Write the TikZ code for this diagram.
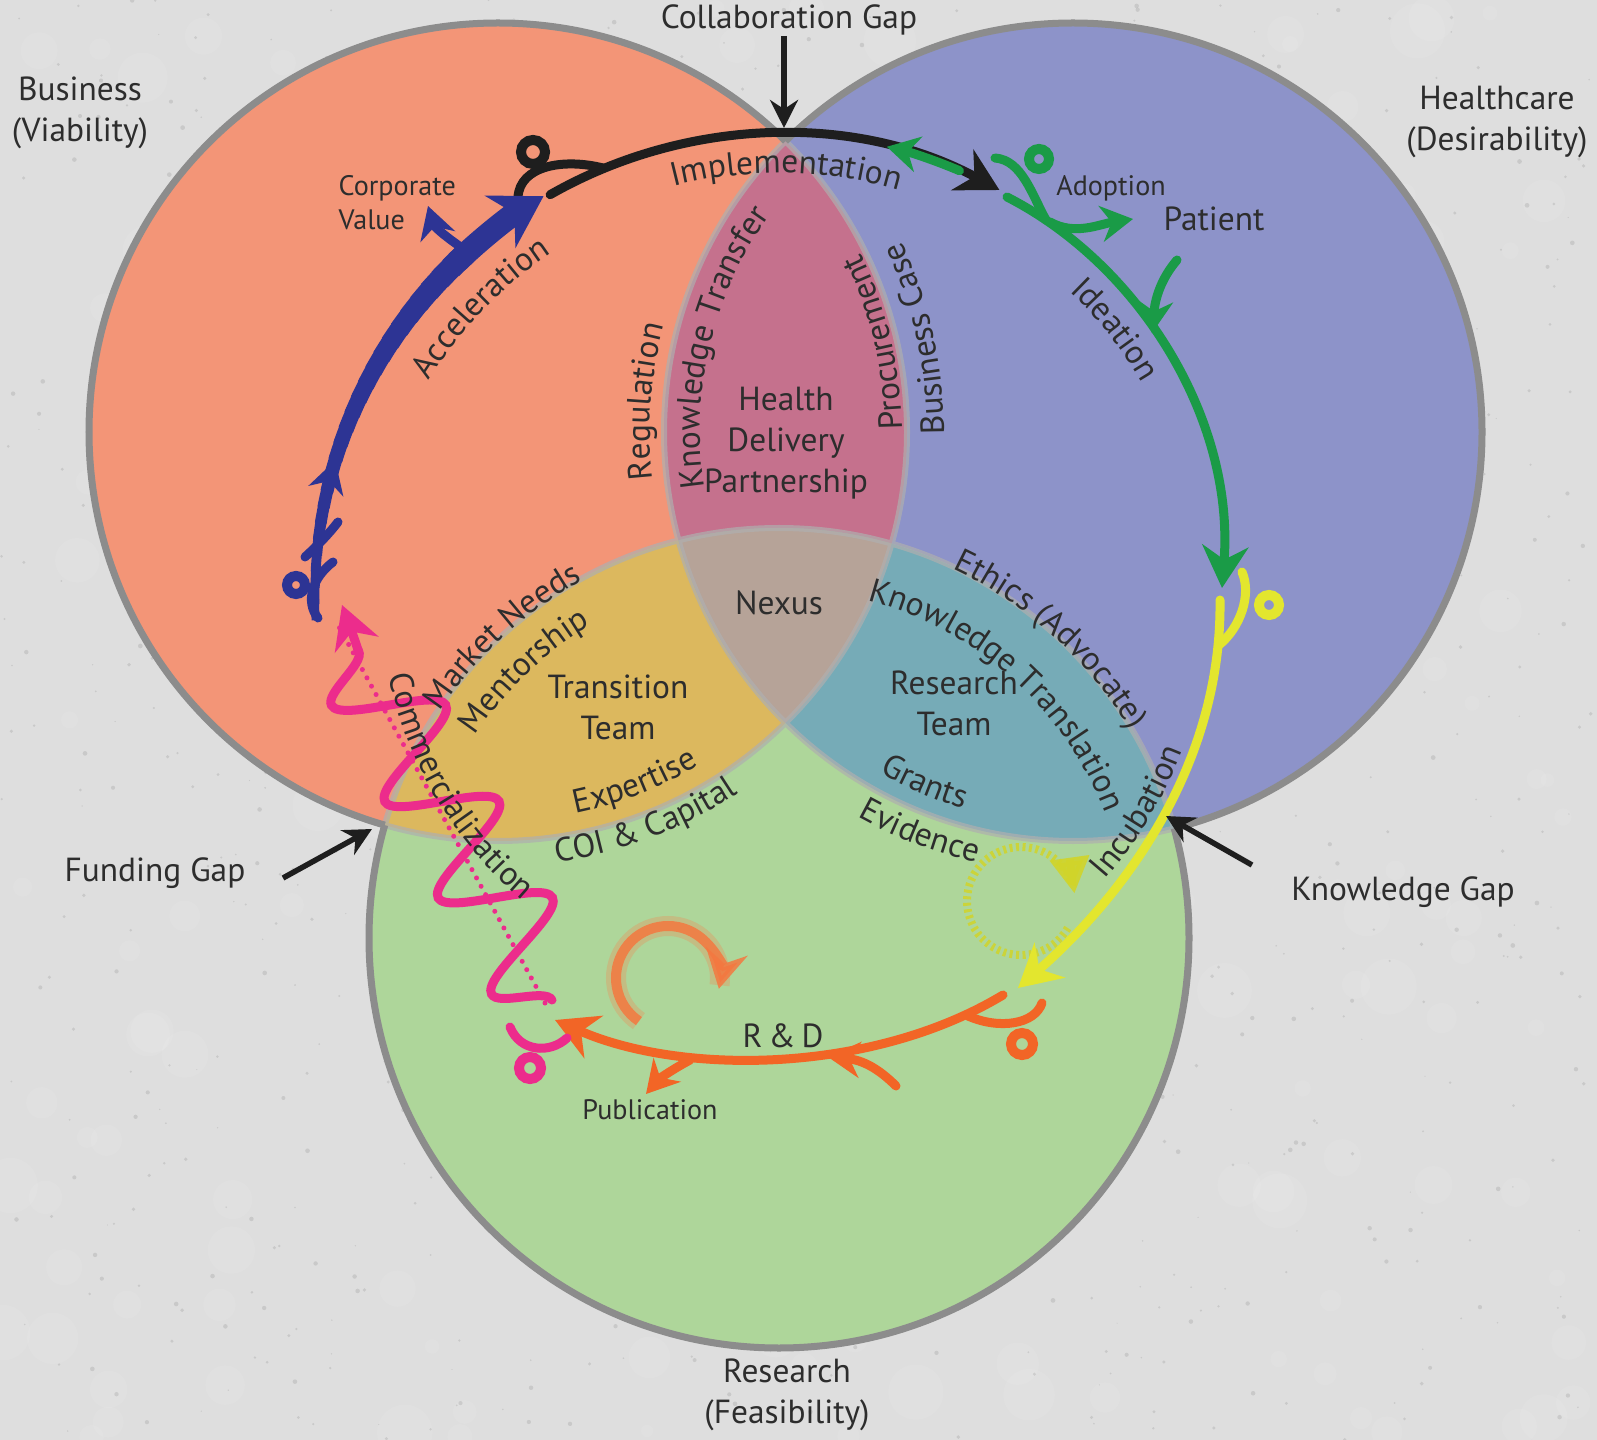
\documentclass[tikz,border=0pt]{standalone}
\usepackage{fontspec}
\setmainfont{PT Sans}
\usetikzlibrary{arrows.meta,decorations.text,decorations.pathmorphing}

\definecolor{bg}{HTML}{DEDEDE}
\definecolor{bizfill}{HTML}{F39577}
\definecolor{carefill}{HTML}{8D93C9}
\definecolor{resfill}{HTML}{AED69A}
\definecolor{bizcare}{HTML}{C5718D}
\definecolor{bizres}{HTML}{DCB85E}
\definecolor{careres}{HTML}{76ABB7}
\definecolor{nexusfill}{HTML}{B6A398}
\definecolor{rim}{HTML}{8C8C8C}
\definecolor{ink}{HTML}{2D2D2D}
\definecolor{cycblack}{HTML}{1E1E1E}
\definecolor{cycblue}{HTML}{2D3494}
\definecolor{cycgreen}{HTML}{1A9B47}
\definecolor{cycyellow}{HTML}{E3E62E}
\definecolor{cycorange}{HTML}{F26526}
\definecolor{cycpink}{HTML}{EC2C8C}

\newcommand{\fsBig}{\fontsize{9.5}{11.6}\selectfont}
\newcommand{\fsSmall}{\fontsize{8}{9.7}\selectfont}

% label bent along a circle: centre, radius, middle angle, direction (1 = clockwise), text
\newcommand{\bendlabel}[5]{%
  \path[decorate, decoration={text along path, text align=center,
      text={|\fsBig\color{ink}|#5}}]
    (#1) ++({#3-40*#4}:#2) arc[start angle={#3-40*#4}, end angle={#3+40*#4}, radius=#2];}

\begin{document}
\begin{tikzpicture}[x=0.01cm, y=-0.01cm,
  lbl/.style={font=\fsBig, text=ink, align=center, inner sep=0pt},
  smalllbl/.style={font=\fsSmall, text=ink, align=center, inner sep=0pt},
  gaparrow/.style={draw=cycblack, line width=0.55mm, -{Stealth[length=2.8mm,width=2.8mm]}},
  rimline/.style={draw=rim, line width=0.7mm},
  innerrim/.style={draw=rim!70!white, draw opacity=0.7, line width=0.6mm},
  cycpath/.style={line width=0.9mm, line cap=round},
  cyctip/.style={-{Stealth[length=4.2mm,width=4.6mm]}},
  midtip/.style={-{Stealth[length=3.2mm,width=3.6mm]}},
  seedring/.style={line width=1mm},
]
\useasboundingbox (0,0) rectangle (1597,1440);
\fill[bg] (0,0) rectangle (1597,1440);
% paper texture
\pgfmathsetseed{42}
\foreach \i in {1,...,220} {
  \fill[white, opacity=0.07] ({rnd*1597},{rnd*1440}) circle[radius={6+rnd*22}];
}
\foreach \i in {1,...,900} {
  \fill[black, opacity=0.09] ({rnd*1597},{rnd*1440}) circle[radius={0.6+rnd*1.8}];
}

% circle centres
\coordinate (biz) at (498,432);
\coordinate (care) at (1073,432);
\coordinate (res) at (779,938);
\coordinate (hub) at (779,596); % centre of the cycle

% discs and overlaps
\fill[bizfill] (biz) circle[radius=409];
\fill[carefill] (care) circle[radius=409];
\fill[resfill] (res) circle[radius=410];
\begin{scope}\clip (biz) circle[radius=409]; \fill[bizcare] (care) circle[radius=409]; \end{scope}
\begin{scope}\clip (biz) circle[radius=409]; \fill[bizres] (res) circle[radius=410]; \end{scope}
\begin{scope}\clip (care) circle[radius=409]; \fill[careres] (res) circle[radius=410]; \end{scope}
\begin{scope}\clip (biz) circle[radius=409]; \clip (care) circle[radius=409];
  \fill[nexusfill] (res) circle[radius=410]; \end{scope}

% rims: light inside, grey outside
\draw[innerrim] (biz) circle[radius=409] (care) circle[radius=409] (res) circle[radius=410];
\begin{scope}[even odd rule]
  \clip (0,0) rectangle (1597,1440) (care) circle[radius=409];
  \clip (0,0) rectangle (1597,1440) (res) circle[radius=410];
  \draw[rimline] (biz) circle[radius=409];
\end{scope}
\begin{scope}[even odd rule]
  \clip (0,0) rectangle (1597,1440) (biz) circle[radius=409];
  \clip (0,0) rectangle (1597,1440) (res) circle[radius=410];
  \draw[rimline] (care) circle[radius=409];
\end{scope}
\begin{scope}[even odd rule]
  \clip (0,0) rectangle (1597,1440) (biz) circle[radius=409];
  \clip (0,0) rectangle (1597,1440) (care) circle[radius=409];
  \draw[rimline] (res) circle[radius=410];
\end{scope}

% black: implementation
\draw[cycpath, cycblack, cyctip] (hub) ++(240.3:462) arc[start angle=240.3, end angle=298.5, radius=462];
\draw[cycblack, seedring] (533,152) circle[radius=12];
\draw[cycpath, cycblack] (518,197) .. controls (520,166) and (563,158) .. (603,168);

% green: ideation
\draw[cycpath, cycgreen, cyctip] (1007,197) .. controls (1140,265) and (1235,420) .. (1222,588);
\draw[cycgreen, seedring] (1039,159) circle[radius=10];
\draw[cycpath, cycgreen] (995,158) .. controls (1022,160) and (1032,195) .. (1046,220);
\draw[cycpath, cycgreen, midtip] (hub) ++(293:462) arc[start angle=293, end angle=283.5, radius=462];
\draw[cycpath, cycgreen, midtip] (1050,222) .. controls (1075,236) and (1100,224) .. (1133,219);
\draw[cycpath, cycgreen, midtip] (1177,260) .. controls (1160,280) and (1155,300) .. (1152,333);

% yellow: incubation
\draw[cycyellow!92!black, opacity=0.85, line width=0.8mm, dash pattern=on 0.3mm off 0.35mm] (1021,901) ++(30:54) arc[start angle=30, end angle=338, radius=54];
\draw[cycyellow!92!black, opacity=0.9, line width=0.8mm, -{Triangle[length=3.6mm,width=3.8mm]}] (1021,901) ++(334:54) arc[start angle=334, end angle=352, radius=54];
\draw[cycpath, cycyellow, cyctip] (1220,600) .. controls (1222,760) and (1130,890) .. (1018,988);
\draw[cycyellow, seedring] (1269,605) circle[radius=10];
\draw[cycpath, cycyellow] (1242,572) .. controls (1252,595) and (1240,628) .. (1219,645);

% orange: R & D
\draw[cycorange!80!white, line width=2mm, opacity=0.3] (668,978) ++(124:52) arc[start angle=124, end angle=368, radius=52];
\draw[cycorange!88!white, line width=1mm, opacity=0.85, -{Stealth[length=3.8mm,width=4.2mm]}] (668,978) ++(124:52) arc[start angle=124, end angle=372, radius=52];
\draw[cycpath, cycorange, cyctip] (1003,995) .. controls (870,1075) and (680,1075) .. (555,1020);
\draw[cycorange, seedring] (1022,1044) circle[radius=11];
\draw[cycpath, cycorange] (1042,1003) .. controls (1035,1024) and (1000,1030) .. (968,1016);
\draw[cycpath, cycorange, midtip] (896,1086) .. controls (878,1068) and (862,1060) .. (828,1057);
\draw[cycpath, cycorange, midtip] (690,1060) .. controls (675,1068) and (660,1078) .. (646,1094);

% pink: commercialization
\draw[cycpink, line width=0.5mm, line cap=round, dash pattern=on 0mm off 0.95mm] (545,1003) -- (338,625);
\draw[cycpath, cycpink, decorate, decoration={snake, amplitude=5mm, segment length=11mm}] (552,1000) -- (358,650);
\draw[cycpath, cycpink, cyctip] (358,650) .. controls (352,632) .. (342,605);
\draw[cycpink, seedring] (530,1068) circle[radius=11];
\draw[cycpath, cycpink] (567,1038) .. controls (550,1054) and (520,1052) .. (510,1027);

% blue: acceleration, getting thicker
\foreach \a in {177,179,...,225} {
  \pgfmathsetmacro\w{0.8+(\a-177)*1.5/48}
  \draw[cycblue, line width=\w mm] (hub) ++(\a:464) arc[start angle=\a, end angle=\a+2.6, radius=464];
}
\draw[cycblue, line width=2.3mm, -{Stealth[length=5mm,width=6mm]}] (hub) ++(226:464) arc[start angle=226, end angle=239.5, radius=464];
\draw[cycblue, line width=0.9mm, midtip] (hub) ++(190:464) arc[start angle=190, end angle=197, radius=464];
\draw[cycpath, cycblue] (305,557) .. controls (318,545) and (328,535) .. (338,522);
\draw[cycpath, cycblue, midtip] (468,252) .. controls (450,240) and (435,228) .. (428,206);
\draw[cycblue, seedring] (296,585) circle[radius=9];
\draw[cycpath, cycblue] (318,618) .. controls (305,602) and (312,578) .. (333,562);

% titles and gaps
\node[lbl] (collab) at (789,20) {Collaboration Gap};
\node[lbl] (biztitle) at (80,113) {Business\\(Viability)};
\node[lbl] (caretitle) at (1497,122) {Healthcare\\(Desirability)};
\node[lbl] (restitle) at (787,1395) {Research\\(Feasibility)};
\node[lbl] (funding) at (155,873) {Funding Gap};
\node[lbl] (knowledge) at (1403,892) {Knowledge Gap};
\coordinate (collabgap) at (784,128);
\coordinate (fundtail) at (283,878);
\coordinate (fundgap) at (372,829);
\coordinate (knowtail) at (1252,865);
\coordinate (knowgap) at (1166,816);
\draw[gaparrow] (collab.south -| collabgap) -- (collabgap);
\draw[gaparrow] (fundtail) -- (fundgap);
\draw[gaparrow] (knowtail) -- (knowgap);

% region labels
\node[lbl] (hdp) at (786,443) {Health\\Delivery\\Partnership};
\node[lbl] (nexus) at (779,603) {Nexus};
\node[lbl] (transteam) at (618,707) {Transition\\Team};
\node[lbl] (resteam) at (954,703) {Research\\Team};
\node[lbl] (patient) at (1214,219) {Patient};
\node[smalllbl] (adoption) at (1111,188) {Adoption};
\node[smalllbl, anchor=west, align=left] (corpvalue) at (338,203) {Corporate\\Value};
\node[smalllbl] (publication) at (650,1110) {Publication};
\node[lbl] (rnd) at (783,1036) {R\hspace{0.18em}\&\hspace{0.18em}D};

% bent labels
\bendlabel{hub}{423}{271}{1}{Implementation}
\bendlabel{hub}{411}{224}{1}{Acceleration}
\bendlabel{hub}{421}{321.6}{1}{Ideation}
\bendlabel{hub}{432}{31}{-1}{Incubation}
\bendlabel{hub}{398}{149.3}{-1}{Commercialization}
\bendlabel{biz}{404}{-13.3}{-1}{Procurement}
\bendlabel{biz}{446}{-12.5}{-1}{Business Case}
\bendlabel{biz}{389}{68.7}{-1}{Expertise}
\bendlabel{biz}{434}{69.3}{-1}{COI {\&} Capital}
\bendlabel{care}{423}{184.1}{1}{Regulation}
\bendlabel{care}{373}{193.5}{1}{Knowledge Transfer}
\bendlabel{care}{392}{112.9}{-1}{Grants}
\bendlabel{care}{441}{110.9}{-1}{Evidence}
\bendlabel{res}{408}{227.5}{1}{Market Needs}
\bendlabel{res}{365}{226.3}{1}{Mentorship}
\bendlabel{res}{408}{312.3}{1}{Ethics (Advocate)}
\bendlabel{res}{349}{311.8}{1}{Knowledge Translation}
\end{tikzpicture}
\end{document}
